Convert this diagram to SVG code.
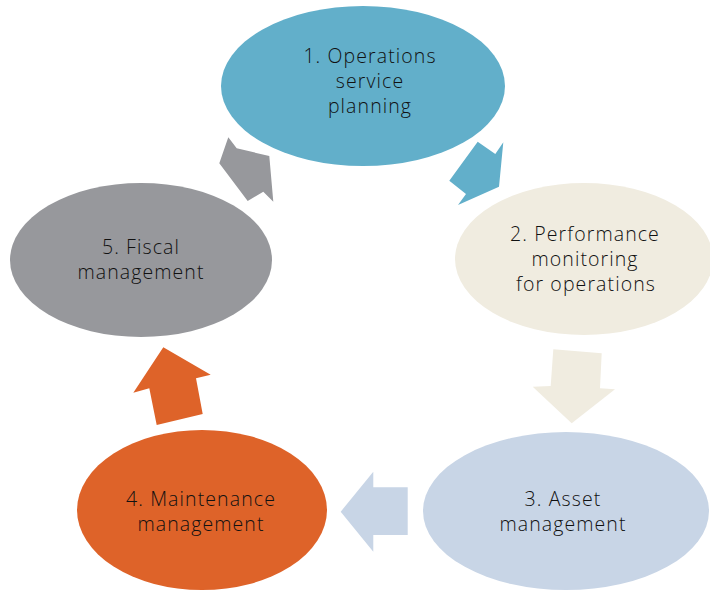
<svg xmlns="http://www.w3.org/2000/svg" width="710" height="591" viewBox="0 0 710 591">
<style>
text{font-family:"Open Sans","Noto Sans",sans-serif;font-weight:300;font-size:19.5px;fill:#111111;text-anchor:middle;letter-spacing:1.1px}
</style>
<rect width="710" height="591" fill="#ffffff"/>
<g id="connectors">
<polygon fill="#62AFCA" points="477.7,141.7 495.3,154 503.3,142.3 499,186.7 458,205 466,194 449.3,180.7"/>
<polygon fill="#F0ECE0" points="553.3,349.3 601.7,353.3 600,388.3 615,389.3 571.7,423.3 532.7,386.7 550.7,386"/>
<polygon fill="#C8D5E6" points="340.7,511.7 373.3,471.7 373.3,487.3 407.7,487.3 407.7,535 373.3,535 373.3,551.7"/>
<polygon fill="#DE6329" points="163.3,347.3 210.7,374.7 196,378.3 202.7,414 156.7,425 149.3,388.3 133.3,392.7"/>
<polygon fill="#97989C" points="228.3,137.3 236.7,148.3 269.3,156 273.3,201.7 263.3,191.7 247.7,201 219.3,163.3"/>
</g>
<g id="node1">
<ellipse cx="363" cy="86" rx="142" ry="80" fill="#62AFCA"/>
<text x="370" y="63">1. Operations</text>
<text x="370" y="88">service</text>
<text x="370" y="113">planning</text>
</g>
<g id="node2">
<ellipse cx="584" cy="259" rx="129" ry="76" fill="#F0ECE0"/>
<text x="585" y="241">2. Performance</text>
<text x="585" y="266">monitoring</text>
<text x="586" y="291">for operations</text>
</g>
<g id="node3">
<ellipse cx="566" cy="511" rx="143" ry="79" fill="#C8D5E6"/>
<text x="563" y="506">3. Asset</text>
<text x="563" y="531">management</text>
</g>
<g id="node4">
<ellipse cx="202" cy="510" rx="125" ry="80" fill="#DE6329"/>
<text x="201" y="506">4. Maintenance</text>
<text x="201" y="531">management</text>
</g>
<g id="node5">
<ellipse cx="141" cy="260" rx="131" ry="77" fill="#97989C"/>
<text x="141" y="254">5. Fiscal</text>
<text x="141" y="279">management</text>
</g>
</svg>
